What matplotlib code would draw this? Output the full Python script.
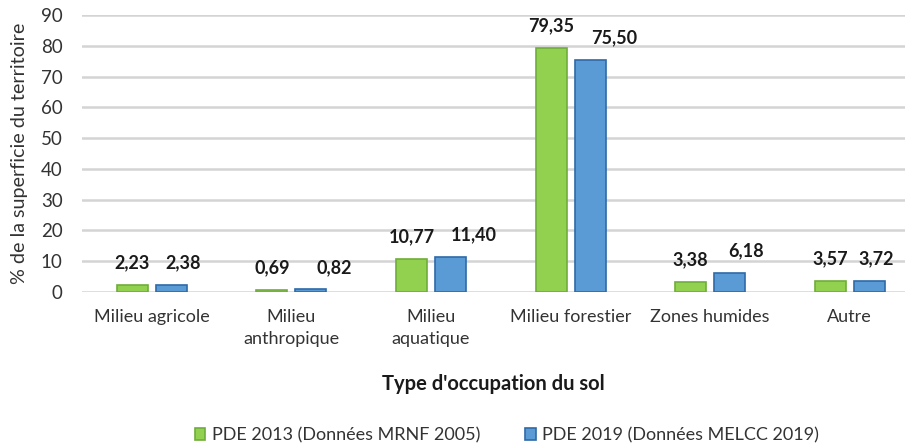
import matplotlib.pyplot as plt
import numpy as np

categories = ['Milieu agricole', 'Milieu\nanthropique', 'Milieu\naquatique',
              'Milieu forestier', 'Zones humides', 'Autre']
pde_2013 = [2.23, 0.69, 10.77, 79.35, 3.38, 3.57]
pde_2019 = [2.38, 0.82, 11.40, 75.50, 6.18, 3.72]
series_names = ['PDE 2013 (Données MRNF 2005)', 'PDE 2019 (Données MELCC 2019)']

# the blue value labels were nudged to the right in the original (pixels)
blue_label_shift = [12, 23, 23, 24, 16, 7]

plt.rcParams['font.family'] = ['Lato', 'DejaVu Sans']

fig = plt.figure(figsize=(9.12, 4.44), dpi=100)
# plot area is cut on the right side in the original, so the last slot is narrower
ax = fig.add_axes([82 / 912, 1 - 292 / 444, (905 - 82) / 912, 277 / 444])

x = np.arange(len(categories))
w = 0.222
off = 0.14

b1 = ax.bar(x - off, pde_2013, w, color='#92d050', edgecolor='#6fae3a', linewidth=1.2,
            label=series_names[0], zorder=3)
b2 = ax.bar(x + off, pde_2019, w, color='#5b9bd5', edgecolor='#2e6aa8', linewidth=1.2,
            label=series_names[1], zorder=3)

def fmt(v):
    return f'{v:.2f}'.replace('.', ',')

px = 72 / 100  # pixels -> points
for xi, v in zip(x - off, pde_2013):
    ax.annotate(fmt(v), (xi, v), xytext=(0, 22 * px), textcoords='offset points',
                ha='center', va='center', fontsize=13, fontweight='bold', color='#1a1a1a')
for xi, v, s in zip(x + off, pde_2019, blue_label_shift):
    ax.annotate(fmt(v), (xi, v), xytext=(s * px, 22 * px), textcoords='offset points',
                ha='center', va='center', fontsize=13, fontweight='bold', color='#1a1a1a')

ax.set_xlim(-0.5, -0.5 + 823 / 139.6)
ax.set_ylim(0, 90)
ax.set_yticks(range(0, 91, 10))
ax.yaxis.grid(True, color='#d4d4d4', linewidth=1.8, zorder=0)
ax.set_axisbelow(True)
for s in ax.spines.values():
    s.set_visible(False)
ax.tick_params(length=0, labelsize=13, colors='#333333')
ax.tick_params(axis='x', pad=12)
ax.tick_params(axis='y', pad=14, labelsize=13.5)
ax.set_xticks(x)
ax.set_xticklabels(categories, linespacing=1.45)

ax.set_ylabel('% de la superficie du territoire', fontsize=14.2, color='#333333', labelpad=9)
ax.set_xlabel("Type d'occupation du sol", fontsize=14.5, fontweight='bold', color='#1a1a1a',
              labelpad=20)

fig.legend(handles=[b1, b2], loc='lower center', bbox_to_anchor=(507 / 912, -0.035), ncol=2,
           frameon=False, fontsize=13, handlelength=0.6, handleheight=0.6,
           handletextpad=0.35, columnspacing=2.5, labelcolor='#333333')

fig.savefig('out.png', dpi=100)
